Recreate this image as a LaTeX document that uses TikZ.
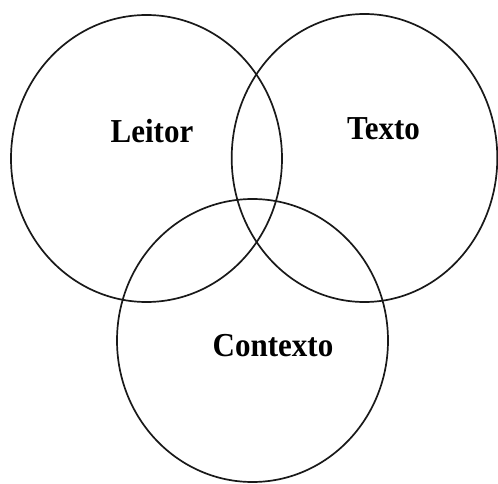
\documentclass[tikz,border=0pt]{standalone}
\usepackage{fontspec}
\setmainfont{Liberation Serif}
\begin{document}
\begin{tikzpicture}[x=1pt,y=1pt,
  ring/.style={draw=black!90,line width=1.7pt},
  lbl/.style={font=\fontsize{31}{36}\selectfont\bfseries,inner sep=0pt,anchor=base}]
\useasboundingbox (0,0) rectangle (498,483);
\clip (0,0) rectangle (498,483);
\draw[ring] (146.5,324.5) ellipse [x radius=135.5, y radius=143.5];
\draw[ring] (364.5,325) ellipse [x radius=132.8, y radius=144];
\draw[ring] (252.5,142.5) ellipse [x radius=135.5, y radius=141.5];
\node[lbl] (leitor) at (152,340) {\scalebox{1}[1.08]{Leitor}};
\node[lbl] (texto) at (383.5,343) {\scalebox{1}[1.08]{Texto}};
\node[lbl] (contexto) at (273,126.5) {\scalebox{1}[1.08]{Contexto}};
\end{tikzpicture}
\end{document}
